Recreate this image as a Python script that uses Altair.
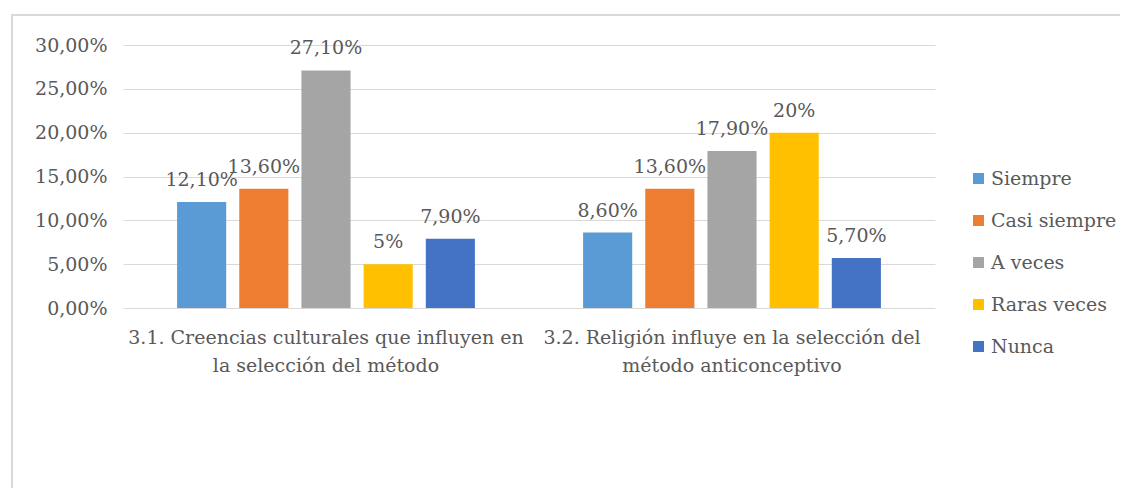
import altair as alt
import pandas as pd

categories = [
    "3.1. Creencias culturales que influyen en\nla selección del método",
    "3.2. Religión influye en la selección del\nmétodo anticonceptivo",
]
series = ["Siempre", "Casi siempre", "A veces", "Raras veces", "Nunca"]
colors = ["#5b9bd5", "#ed7d31", "#a5a5a5", "#ffc000", "#4472c4"]
values_c1 = [0.121, 0.136, 0.271, 0.05, 0.079]
values_c2 = [0.086, 0.136, 0.179, 0.20, 0.057]
labels_c1 = ["12,10%", "13,60%", "27,10%", "5%", "7,90%"]
labels_c2 = ["8,60%", "13,60%", "17,90%", "20%", "5,70%"]

rows = []
for cat, vals, labs in [(categories[0], values_c1, labels_c1), (categories[1], values_c2, labels_c2)]:
    for s, v, l in zip(series, vals, labs):
        rows.append({"cat": cat, "serie": s, "valor": v, "etiqueta": l})
df = pd.DataFrame(rows)

FONT = "DejaVu Serif"
TXT = "#595959"
FS = 19

x_enc = alt.X("cat:N", sort=categories, title=None,
              scale=alt.Scale(paddingInner=0, paddingOuter=0),
              axis=alt.Axis(labelExpr="split(datum.label, '\\n')", labelAngle=0,
                            ticks=False, domain=False, grid=False,
                            labelPadding=20, labelLineHeight=28, labelLimit=600,
                            labelFont=FONT, labelFontSize=FS, labelColor=TXT))
xo_enc = alt.XOffset("serie:N", sort=series,
                     scale=alt.Scale(paddingInner=0.21, paddingOuter=0.87))
y_enc = alt.Y("valor:Q", title=None,
              scale=alt.Scale(domain=[0, 0.30]),
              axis=alt.Axis(values=[0, 0.05, 0.10, 0.15, 0.20, 0.25, 0.30],
                            labelExpr="replace(format(datum.value, '.2%'), '.', ',')",
                            ticks=False, domain=False, grid=True,
                            gridColor="#d9d9d9", gridWidth=1,
                            labelPadding=16, labelFont=FONT, labelFontSize=FS,
                            labelColor=TXT))

bars = alt.Chart(df).mark_bar().encode(
    x=x_enc, xOffset=xo_enc, y=y_enc,
    color=alt.Color("serie:N", sort=series, title=None,
                    scale=alt.Scale(domain=series, range=colors),
                    legend=alt.Legend(orient="none", legendX=846, legendY=124,
                                      symbolType="square", symbolSize=121,
                                      symbolStrokeWidth=0,
                                      labelFont=FONT, labelFontSize=FS,
                                      labelColor=TXT, labelOffset=3,
                                      rowPadding=22)),
)

texts = alt.Chart(df).mark_text(baseline="middle", dy=-22, font=FONT,
                                fontSize=FS, color=TXT).encode(
    x=alt.X("cat:N", sort=categories),
    xOffset=alt.XOffset("serie:N", sort=series),
    y=alt.Y("valor:Q"), text="etiqueta:N",
)

frame_df = pd.DataFrame({"k": [0]})
frame_left = alt.Chart(frame_df).mark_rule(color="#d9d9d9", strokeWidth=2).encode(
    x=alt.value(-111), y=alt.value(-30), y2=alt.value(445))
frame_top = alt.Chart(frame_df).mark_rule(color="#d9d9d9", strokeWidth=2).encode(
    x=alt.value(-112), x2=alt.value(1000), y=alt.value(-30))

chart = alt.layer(bars, texts, frame_left, frame_top).properties(
    width=812, height=263,
    autosize=alt.AutoSizeParams(type="none"),
    padding={"left": 115, "top": 37, "right": 185, "bottom": 180},
).configure(background="white", font=FONT).configure_view(strokeWidth=0, stroke="transparent")

chart.save("out.html", embed_options={"renderer": "svg", "actions": False})
